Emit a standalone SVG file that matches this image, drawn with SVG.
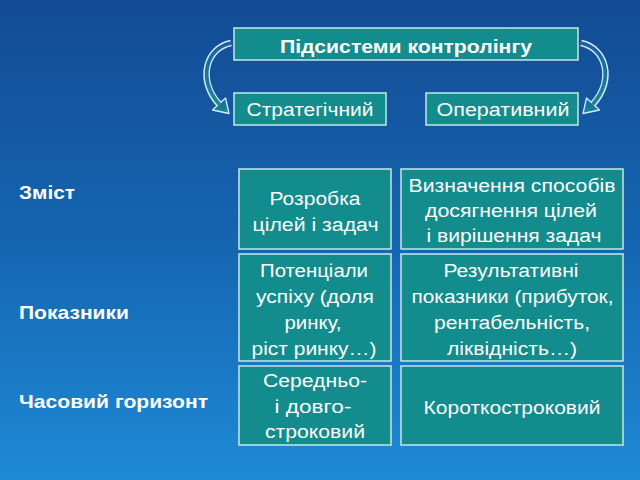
<svg xmlns="http://www.w3.org/2000/svg" width="640" height="480" viewBox="0 0 640 480">
<defs>
<linearGradient id="bg" x1="0" y1="0" x2="0" y2="1">
<stop offset="0" stop-color="#134b94"/>
<stop offset="0.5" stop-color="#1565b0"/>
<stop offset="1" stop-color="#1e8ad6"/>
</linearGradient>
<linearGradient id="arrfill" x1="0" y1="0" x2="0" y2="1">
<stop offset="0" stop-color="#1a5fa6"/>
<stop offset="1" stop-color="#168a94"/>
</linearGradient>
<g id="curvedArrow">
<path d="M 231 43 C 206 48, 197 80, 219 104" fill="none" stroke="#d6ecf0" stroke-width="6.5" stroke-linecap="butt"/>
<polygon points="225.5,98 229,113.5 212.5,110" fill="url(#arrfill)" stroke="#d6ecf0" stroke-width="1.3" stroke-linejoin="round"/>
<path d="M 231 43 C 206 48, 197 80, 219.5 104.5" fill="none" stroke="url(#arrfill)" stroke-width="3.8" stroke-linecap="butt"/>
</g>
</defs>
<style>
.box{fill:#128c8c;stroke:#c9e6e6;stroke-width:1.5}
.t{font-family:"Liberation Sans",Arial,sans-serif;font-size:18px;fill:#ffffff;text-anchor:middle}
.b{font-family:"Liberation Sans",Arial,sans-serif;font-size:19px;font-weight:bold;fill:#ffffff}
.h{font-family:"Liberation Sans",Arial,sans-serif;font-size:18px;font-weight:bold;fill:#ffffff;text-anchor:middle}
</style>
<rect x="0" y="0" width="640" height="480" fill="url(#bg)"/>

<g id="connectors">
<use href="#curvedArrow"/>
<use href="#curvedArrow" transform="translate(812,0) scale(-1,1)"/>
</g>

<g id="header">
<rect class="box" x="234" y="28" width="344" height="32"/>
<text class="h" x="406" y="53" textLength="252" lengthAdjust="spacingAndGlyphs">Підсистеми контролінгу</text>
</g>
<g id="strategic">
<rect class="box" x="234" y="93" width="152" height="32"/>
<text class="t" x="310" y="116" textLength="127" lengthAdjust="spacingAndGlyphs">Стратегічний</text>
</g>
<g id="operative">
<rect class="box" x="426" y="93" width="152" height="32"/>
<text class="t" x="503" y="116" textLength="133" lengthAdjust="spacingAndGlyphs">Оперативний</text>
</g>

<g id="label-zmist"><text class="b" x="19" y="199" textLength="56" lengthAdjust="spacingAndGlyphs">Зміст</text></g>
<g id="label-pokaznyky"><text class="b" x="19" y="319" textLength="110" lengthAdjust="spacingAndGlyphs">Показники</text></g>
<g id="label-horyzont"><text class="b" x="19" y="408" textLength="189" lengthAdjust="spacingAndGlyphs">Часовий горизонт</text></g>

<g id="r1c1">
<rect class="box" x="239" y="169" width="152" height="80"/>
<text class="t" x="315" y="205" textLength="91" lengthAdjust="spacingAndGlyphs">Розробка</text>
<text class="t" x="315.5" y="231" textLength="126" lengthAdjust="spacingAndGlyphs">цілей і задач</text>
</g>
<g id="r1c2">
<rect class="box" x="401" y="169" width="222" height="80"/>
<text class="t" x="512" y="192" textLength="207" lengthAdjust="spacingAndGlyphs">Визначення способів</text>
<text class="t" x="511" y="217" textLength="172" lengthAdjust="spacingAndGlyphs">досягнення цілей</text>
<text class="t" x="514" y="242" textLength="175" lengthAdjust="spacingAndGlyphs">і вирішення задач</text>
</g>
<g id="r2c1">
<rect class="box" x="239" y="254" width="152" height="107"/>
<text class="t" x="314" y="277" textLength="108" lengthAdjust="spacingAndGlyphs">Потенціали</text>
<text class="t" x="315" y="303" textLength="118" lengthAdjust="spacingAndGlyphs">успіху (доля</text>
<text class="t" x="313" y="329" textLength="57" lengthAdjust="spacingAndGlyphs">ринку,</text>
<text class="t" x="314" y="355" textLength="125" lengthAdjust="spacingAndGlyphs">ріст ринку…)</text>
</g>
<g id="r2c2">
<rect class="box" x="401" y="254" width="222" height="107"/>
<text class="t" x="511" y="277" textLength="135" lengthAdjust="spacingAndGlyphs">Результативні</text>
<text class="t" x="512.5" y="303" textLength="202" lengthAdjust="spacingAndGlyphs">показники (прибуток,</text>
<text class="t" x="512" y="329" textLength="156" lengthAdjust="spacingAndGlyphs">рентабельність,</text>
<text class="t" x="512" y="355" textLength="130" lengthAdjust="spacingAndGlyphs">ліквідність…)</text>
</g>
<g id="r3c1">
<rect class="box" x="239" y="366" width="152" height="79"/>
<text class="t" x="315" y="387" textLength="104" lengthAdjust="spacingAndGlyphs">Середньо-</text>
<text class="t" x="313" y="413" textLength="77" lengthAdjust="spacingAndGlyphs">і довго-</text>
<text class="t" x="315" y="438" textLength="100" lengthAdjust="spacingAndGlyphs">строковий</text>
</g>
<g id="r3c2">
<rect class="box" x="401" y="366" width="222" height="79"/>
<text class="t" x="512" y="414" textLength="177" lengthAdjust="spacingAndGlyphs">Короткостроковий</text>
</g>
</svg>
